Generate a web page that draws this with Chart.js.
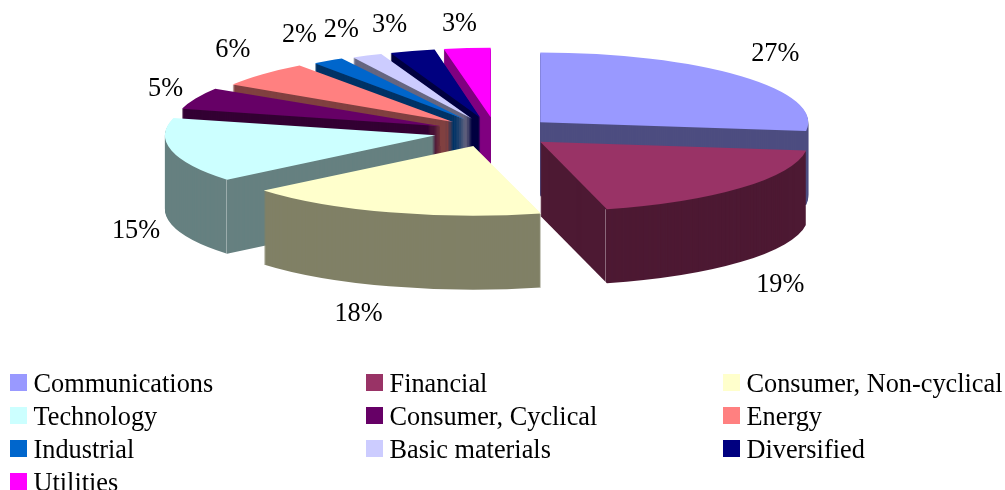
<!DOCTYPE html>
<html><head><meta charset="utf-8">
<style>html,body{margin:0;padding:0;background:#fff}canvas{display:block}</style>
<script src="https://cdn.jsdelivr.net/npm/chart.js@4/dist/chart.umd.js"></script>
</head><body>
<canvas id="c" width="1005" height="490"></canvas>
<script>
const categories = ['Communications','Financial','Consumer, Non-cyclical','Technology','Consumer, Cyclical','Energy','Industrial','Basic materials','Diversified','Utilities'];
const shares = [27,19,18,15,5,6,2,2,3,3];
const topColors = ['#9999FF','#993366','#FFFFCC','#CCFFFF','#660066','#FF8080','#0066CC','#CCCCFF','#000080','#FF00FF'];
const sideColors = ['#4D4D80','#4D1933','#808066','#668080','#330033','#804040','#003366','#666680','#000040','#800080'];
const labelDx = [34,39,-28,-27,-17,-13,-11,-6,-7,1];
const labelDy = [-23,98,102,81,-10,-25,-26,-26,-26,-25];
/* the reference's perspective: far slices are drawn a little narrower and nearer the middle */
const perspectiveShift = [0,0,4,11,13,12,11,10.5,9,7];
const perspectiveScale = [1,1,1.015,1.01,1,0.975,0.955,0.92,0.91,0.935];
/* wall corners that show a thin light edge: [slice, 'startAngle' or 'endAngle'] */
const litCorners = [[1,'endAngle'],[3,'startAngle']];

const RADIUS = 268, EXPLODE = 67, TILT = 0.26, EXPLODE_TILT = 0.22, LABEL_TILT = 0.25, DEPTH = 74;
const FONT = '26.3px "Liberation Serif"';
const legendCols = [10,366,723], legendRows = [382.5,415.5,448.5,481.5], SWATCH = 17, TEXT_GAP = 23.5;

const pie3d = {
  id:'pie3d',
  beforeDatasetDraw(chart){
    const ctx = chart.ctx;
    const arcs = chart.getDatasetMeta(0).data;
    const order = arcs.map((a,i)=>i).sort((p,q)=>{
      const mp=(arcs[p].startAngle+arcs[p].endAngle)/2, mq=(arcs[q].startAngle+arcs[q].endAngle)/2;
      return Math.sin(mp)-Math.sin(mq);
    });
    const apex = (i)=>{
      const el=arcs[i], m=(el.startAngle+el.endAngle)/2;
      return {x:el.x+Math.cos(m)*EXPLODE+perspectiveShift[i], y:el.y+Math.sin(m)*EXPLODE*EXPLODE_TILT};
    };
    const paint = (i,color,yShift)=>{
      const el=arcs[i], a=apex(i);
      ctx.save();
      ctx.translate(a.x, a.y+yShift);
      ctx.scale(perspectiveScale[i],TILT);
      ctx.translate(-el.x,-el.y);
      const saved=el.options;
      el.options=Object.assign({},saved,{backgroundColor:color,borderColor:color,borderWidth:0});
      el.draw(ctx);
      el.options=saved;
      ctx.restore();
    };
    order.forEach(i=>{
      for(let d=DEPTH;d>=1;d--) paint(i,sideColors[i],d);
      litCorners.filter(c=>c[0]===i).forEach(c=>{
        const el=arcs[i], a=apex(i), ang=el[c[1]], r=el.outerRadius;
        const x=a.x+Math.cos(ang)*r*perspectiveScale[i], y=a.y+Math.sin(ang)*r*TILT;
        ctx.save();
        ctx.strokeStyle='#fff'; ctx.globalAlpha=0.35; ctx.lineWidth=1;
        ctx.beginPath(); ctx.moveTo(Math.floor(x)-0.5,y); ctx.lineTo(Math.floor(x)-0.5,y+DEPTH); ctx.stroke();
        ctx.restore();
      });
      paint(i,topColors[i],0);
    });
    return false;
  },
  afterDraw(chart){
    const ctx=chart.ctx, arcs=chart.getDatasetMeta(0).data;
    ctx.save();
    ctx.font=FONT; ctx.fillStyle='#000'; ctx.textBaseline='middle'; ctx.textAlign='center';
    arcs.forEach((el,i)=>{
      const m=(el.startAngle+el.endAngle)/2, R=RADIUS+EXPLODE;
      ctx.fillText(shares[i]+'%', el.x+Math.cos(m)*R+labelDx[i], el.y+Math.sin(m)*R*LABEL_TILT+labelDy[i]);
    });
    ctx.textAlign='left';
    categories.forEach((name,i)=>{
      const x=legendCols[i%3], y=legendRows[Math.floor(i/3)];
      ctx.fillStyle=topColors[i]; ctx.fillRect(x,y-SWATCH/2,SWATCH,SWATCH);
      ctx.fillStyle='#000'; ctx.fillText(name,x+TEXT_GAP,y+2.5);
    });
    ctx.restore();
  }
};

new Chart(document.getElementById('c'),{
  type:'pie',
  data:{labels:categories,datasets:[{data:shares,backgroundColor:topColors,borderWidth:0}]},
  options:{
    responsive:false,animation:false,radius:RADIUS,
    layout:{padding:{left:0,right:25,top:0,bottom:226}},
    plugins:{legend:{display:false},tooltip:{enabled:false}}
  },
  plugins:[pie3d]
});
</script>
</body></html>
